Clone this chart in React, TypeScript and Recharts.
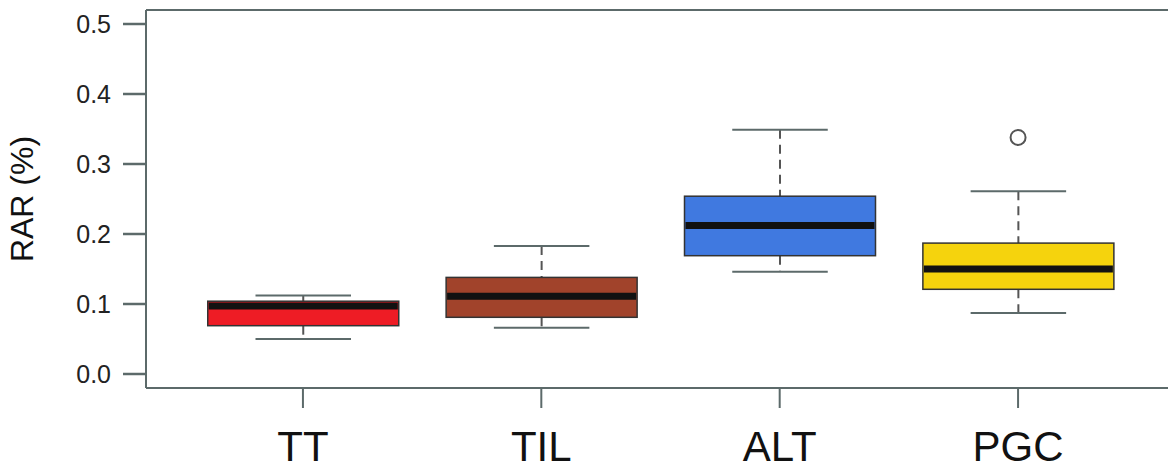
import React from 'react';
import {
    ComposedChart,
    Bar,
    Scatter,
    XAxis,
    YAxis,
} from 'recharts';

// group names and five-number summaries
const categories = ['TT', 'TIL', 'ALT', 'PGC'];
const whiskerLow = [0.05, 0.066, 0.146, 0.087];
const q1 = [0.069, 0.081, 0.169, 0.121];
const median = [0.097, 0.111, 0.212, 0.15];
const q3 = [0.104, 0.138, 0.254, 0.187];
const whiskerHigh = [0.112, 0.183, 0.349, 0.261];
const outliers: (number | null)[] = [null, null, null, 0.338];
const yTicks = [0, 0.1, 0.2, 0.3, 0.4, 0.5];

const FILLS = ['#ee1c25', '#a1432b', '#4079e0', '#f5d30d'];
const FRAME = '#5c6a6a';

const data = categories.map((name, i) => ({
    name,
    low: whiskerLow[i],
    q1: q1[i],
    median: median[i],
    q3: q3[i],
    high: whiskerHigh[i],
    range: [whiskerLow[i], whiskerHigh[i]],
    outlier: outliers[i],
    fill: FILLS[i],
}));

// draws one box; the bar spans low..high, inner values are placed on the same linear scale
function BoxShape(props: any) {
    const { x, y, width, height, payload } = props;
    if (x == null || y == null) return null;
    const { low, high } = payload;
    const py = (v: number) => y + (height * (high - v)) / (high - low);
    const cx = x + width / 2;
    const capHalf = width / 4;
    const yQ1 = py(payload.q1);
    const yQ3 = py(payload.q3);
    const yMed = py(payload.median);
    const yLow = py(low);
    const yHigh = py(high);
    return (
        <g>
            <line x1={cx} x2={cx} y1={yHigh} y2={yQ3} stroke="#555" strokeWidth={2} strokeDasharray="9 6" />
            <line x1={cx} x2={cx} y1={yQ1} y2={yLow} stroke="#555" strokeWidth={2} strokeDasharray="9 6" />
            <line x1={cx - capHalf} x2={cx + capHalf} y1={yHigh} y2={yHigh} stroke={FRAME} strokeWidth={2} />
            <line x1={cx - capHalf} x2={cx + capHalf} y1={yLow} y2={yLow} stroke={FRAME} strokeWidth={2} />
            <rect x={x} y={yQ3} width={width} height={yQ1 - yQ3} fill={payload.fill} stroke="#333" strokeWidth={1.5} />
            <line x1={x + 1} x2={x + width - 1} y1={yMed} y2={yMed} stroke="#111" strokeWidth={7} />
        </g>
    );
}

function OutlierShape(props: any) {
    const { cx, cy, payload } = props;
    if (payload == null || payload.outlier == null || cx == null || cy == null || isNaN(cy)) return <g />;
    return <circle cx={cx} cy={cy} r={7.5} fill="none" stroke="#555" strokeWidth={2} />;
}

export default function App() {
    return (
        <div
            style={{
                position: 'absolute',
                left: 0,
                top: 0,
                width: 1168,
                height: 466,
                overflow: 'hidden',
                background: '#fff',
                fontFamily: '"Liberation Sans", Arial, sans-serif',
            }}
        >
            <ComposedChart
                width={1180}
                height={466}
                data={data}
                margin={{ top: 0, right: 5, bottom: 0, left: 0 }}
            >
                <XAxis
                    xAxisId="top"
                    orientation="top"
                    dataKey="name"
                    height={10}
                    tick={false}
                    tickLine={false}
                    axisLine={{ stroke: FRAME, strokeWidth: 2 }}
                    padding={{ left: 37.75, right: 37.75 }}
                />
                <XAxis
                    dataKey="name"
                    height={78}
                    padding={{ left: 37.75, right: 37.75 }}
                    axisLine={{ stroke: FRAME, strokeWidth: 2 }}
                    tickLine={{ stroke: FRAME, strokeWidth: 2 }}
                    tickSize={20}
                    tickMargin={23}
                    tick={{ fontSize: 42, fill: '#111', fontFamily: '"Liberation Sans", Arial, sans-serif' }}
                    interval={0}
                />
                <YAxis
                    type="number"
                    domain={[-0.02, 0.52]}
                    ticks={yTicks}
                    allowDataOverflow
                    width={146}
                    axisLine={{ stroke: FRAME, strokeWidth: 2 }}
                    tickLine={{ stroke: FRAME, strokeWidth: 2.5 }}
                    tickSize={23}
                    tickMargin={12}
                    tickFormatter={(v: number) => v.toFixed(1)}
                    tick={{ fontSize: 25, fill: '#222', fontFamily: '"Liberation Sans", Arial, sans-serif' }}
                    label={{
                        value: 'RAR (%)',
                        angle: -90,
                        position: 'center',
                        dx: -51,
                        style: { fontSize: 32, fill: '#111', fontFamily: '"Liberation Sans", Arial, sans-serif' },
                    }}
                />
                <Bar
                    dataKey="range"
                    barSize={191}
                    shape={<BoxShape />}
                    isAnimationActive={false}
                />
                <Scatter
                    dataKey="outlier"
                    shape={<OutlierShape />}
                    isAnimationActive={false}
                />
            </ComposedChart>
        </div>
    );
}
